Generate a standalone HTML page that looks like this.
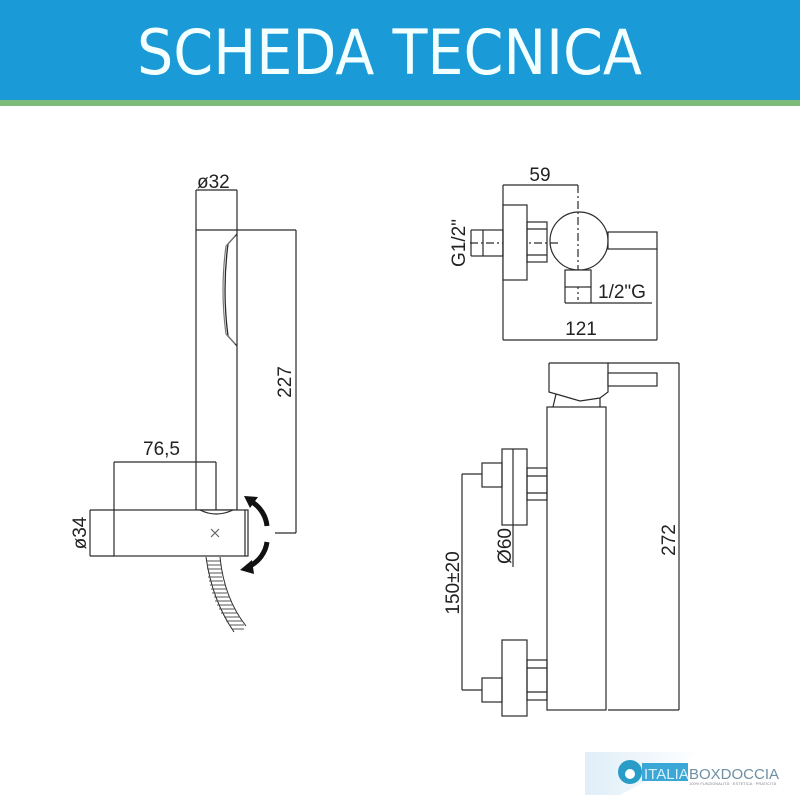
<!DOCTYPE html>
<html><head><meta charset="utf-8"><style>
html,body{margin:0;padding:0;background:#fff}
svg{display:block}
text{font-family:"Liberation Sans",sans-serif;fill:#222}
</style></head><body>
<svg width="800" height="800" viewBox="0 0 800 800" xmlns="http://www.w3.org/2000/svg">
<defs>
<linearGradient id="lg" x1="0" y1="0" x2="1" y2="0"><stop offset="0" stop-color="#dfeef8"/><stop offset="1" stop-color="#ffffff"/></linearGradient>
</defs>
<rect x="0" y="0" width="800" height="100" fill="#1a9ad6"/>
<rect x="0" y="100" width="800" height="6" fill="#7dbb7a"/>
<text x="137" y="74" font-size="62" textLength="505" lengthAdjust="spacingAndGlyphs" style="fill:#f4ffff;font-family:'DejaVu Sans Condensed','Liberation Sans Narrow',sans-serif;font-weight:normal">SCHEDA TECNICA</text>

<g fill="none" stroke="#2a2a2a" stroke-width="1.2">
<!-- left handle -->
<path d="M196 230 H237 V510 H196 Z" fill="#fff"/>
<path d="M237 234 L228 244 Q222 290 228 336 L237 346" stroke-width="1.3"/>
<path d="M235 236 L226 246 Q220 290 226 334 L235 344" stroke="#777"/>
<line x1="196" y1="190" x2="196" y2="230"/>
<line x1="237" y1="190" x2="237" y2="230"/>
<line x1="196" y1="190" x2="237" y2="190"/>
<line x1="237" y1="230" x2="296" y2="230"/>
<line x1="296" y1="230" x2="296" y2="533"/>
<line x1="275" y1="533" x2="296" y2="533"/>
<line x1="114" y1="462" x2="216" y2="462"/>
<line x1="114" y1="462" x2="114" y2="510"/>
<line x1="216" y1="462" x2="216" y2="510"/>
<rect x="114" y="510" width="134" height="46" fill="#fff"/>
<line x1="245" y1="510" x2="245" y2="556"/>
<path d="M200 510 Q216 518 233 510"/>
<line x1="90" y1="510" x2="114" y2="510"/>
<line x1="90" y1="556" x2="114" y2="556"/>
<line x1="90" y1="510" x2="90" y2="556"/>
<path d="M211 529 l8 8 M219 529 l-8 8" stroke="#666"/>
<!-- hose -->
<path d="M206 557 Q212 600 234 632" stroke-width="1"/>
<path d="M220 557 Q224 598 246 626" stroke-width="1"/>
<path d="M207 561 h13 M207 565 h14 M207 569 h14 M208 573 h14 M208 577 h14 M209 581 h14 M210 585 h15 M211 589 h15 M212 593 h15 M214 597 h16 M215 601 h16 M217 605 h16 M219 609 h16 M221 613 h16 M224 617 h16 M226 621 h16 M229 625 h15 M232 629 h12" stroke="#555" stroke-width="1"/>
</g>
<!-- rotation arrows -->
<g fill="none" stroke="#111" stroke-width="5">
<path d="M252 502 A32 32 0 0 1 267 526"/>
<path d="M267 542 A32 32 0 0 1 250 566"/>
</g>
<path d="M244 496 L258 497 L250 508 Z" fill="#111"/>
<path d="M240 570 L252 560 L254 574 Z" fill="#111"/>
<text x="197" y="188" font-size="19">ø32</text>
<text x="143" y="455" font-size="19">76,5</text>
<text transform="translate(291,382) rotate(-90)" font-size="19" text-anchor="middle">227</text>
<text transform="translate(86,533) rotate(-90)" font-size="19" text-anchor="middle">ø34</text>

<!-- right top view -->
<g fill="none" stroke="#2a2a2a" stroke-width="1.2">
<line x1="503" y1="185" x2="578" y2="185"/>
<line x1="503" y1="185" x2="503" y2="340"/>
<line x1="578" y1="185" x2="578" y2="300" stroke-dasharray="8 3 2 3"/>
<line x1="470" y1="243" x2="560" y2="243" stroke-dasharray="8 3 2 3"/>
<rect x="503" y="205" width="24" height="75" fill="#fff"/>
<rect x="483" y="230" width="20" height="26"/>
<line x1="471" y1="230" x2="483" y2="230"/><line x1="471" y1="256" x2="483" y2="256"/><line x1="471" y1="230" x2="471" y2="256"/>
<rect x="527" y="222" width="20" height="40"/>
<line x1="527" y1="229" x2="547" y2="229"/><line x1="527" y1="255" x2="547" y2="255"/>
<circle cx="579" cy="241" r="29"/>
<rect x="608" y="232" width="49" height="17" fill="#fff"/>
<rect x="565" y="270" width="26" height="17" fill="#fff"/>
<line x1="565" y1="287" x2="565" y2="303"/><line x1="591" y1="287" x2="591" y2="303"/>
<line x1="565" y1="303" x2="652" y2="303"/>
<line x1="503" y1="340" x2="657" y2="340"/>
<line x1="657" y1="249" x2="657" y2="340"/>
</g>
<text x="540" y="181" font-size="19" text-anchor="middle">59</text>
<text x="598" y="298" font-size="19">1/2"G</text>
<text x="581" y="335" font-size="19" text-anchor="middle">121</text>
<text transform="translate(465,243) rotate(-90)" font-size="19" text-anchor="middle">G1/2"</text>

<!-- right front view -->
<g fill="none" stroke="#2a2a2a" stroke-width="1.2">
<rect x="547" y="407" width="59" height="303" fill="#fff"/>
<path d="M549 363 H608 V392 L600 398 V407 M549 363 V392 L556 394 L553 407 M556 394 L580 401 L600 398"/>
<rect x="608" y="373" width="49" height="13" fill="#fff"/>
<line x1="608" y1="363" x2="679" y2="363"/>
<line x1="608" y1="710" x2="679" y2="710"/>
<line x1="679" y1="363" x2="679" y2="710"/>
<rect x="502" y="449" width="25" height="76" fill="#fff"/>
<line x1="513" y1="449" x2="513" y2="567"/>
<rect x="482" y="463" width="20" height="24"/>
<rect x="527" y="468" width="20" height="32"/>
<line x1="527" y1="476" x2="547" y2="476"/><line x1="527" y1="493" x2="547" y2="493"/>
<rect x="502" y="640" width="25" height="76" fill="#fff"/>
<rect x="482" y="678" width="20" height="24"/>
<rect x="527" y="660" width="20" height="40"/>
<line x1="527" y1="668" x2="547" y2="668"/><line x1="527" y1="692" x2="547" y2="692"/>
<line x1="462" y1="474" x2="482" y2="474"/>
<line x1="462" y1="690" x2="482" y2="690"/>
<line x1="462" y1="474" x2="462" y2="690"/>
</g>
<text transform="translate(675,540) rotate(-90)" font-size="19" text-anchor="middle">272</text>
<text transform="translate(459,583) rotate(-90)" font-size="19" text-anchor="middle">150±20</text>
<text transform="translate(511,546) rotate(-90)" font-size="19" text-anchor="middle">Ø60</text>

<!-- logo -->
<polygon points="585,752 700,752 620,795 585,795" fill="url(#lg)"/>
<circle cx="630" cy="772" r="12" fill="#2a9cc8"/>
<circle cx="630" cy="774" r="5" fill="#fff"/>
<rect x="642" y="763" width="46" height="18" fill="#3aa7d6"/>
<text x="644" y="779" font-size="15" style="fill:#d8f1fb">ITALIA</text>
<text x="689" y="779" font-size="15" style="fill:#6f8fa3">BOXDOCCIA</text>
<text x="689" y="785" font-size="4" style="fill:#889">100% FUNZIONALITÀ · ESTETICA · PRATICITÀ</text>
</svg>
</body></html>
